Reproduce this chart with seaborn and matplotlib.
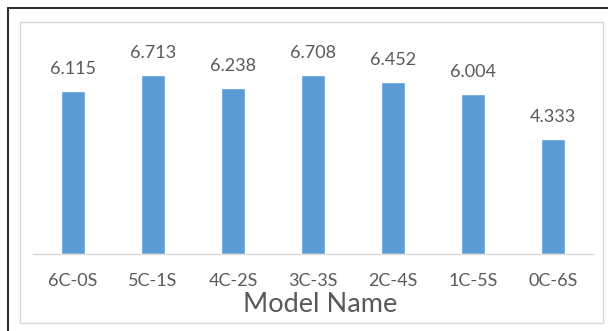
import matplotlib
matplotlib.use("Agg")
import matplotlib.pyplot as plt
from matplotlib.patches import Rectangle
from matplotlib.lines import Line2D
import seaborn as sns
import pandas as pd

models = ["6C-0S", "5C-1S", "4C-2S", "3C-3S", "2C-4S", "1C-5S", "0C-6S"]
scores = [6.115, 6.713, 6.238, 6.708, 6.452, 6.004, 4.333]
x_title = "Model Name"

sns.set_theme(style="white")
plt.rcParams["font.family"] = ["Lato", "DejaVu Sans"]

W, H = 608, 331
fig = plt.figure(figsize=(W / 100, H / 100), dpi=100)
fig.patch.set_facecolor("white")

# plot area in pixel coordinates
left_px, right_px, base_px, top_px = 33, 593, 254, 41
ax = fig.add_axes([left_px / W, 1 - base_px / H,
                   (right_px - left_px) / W, (base_px - top_px) / H])

df = pd.DataFrame({"model": models, "score": scores})
sns.barplot(data=df, x="model", y="score", color="#5B9BD5", saturation=1,
            width=0.31, ax=ax, errorbar=None)
ax.set_xlim(-0.5, len(models) - 0.5)
ax.set_ylim(0, 8)

text_color = "#595959"
for i, v in enumerate(scores):
    ax.annotate(f"{v:.3f}", xy=(i, v), xytext=(0, 17), textcoords="offset pixels",
                ha="center", va="baseline", fontsize=13, color=text_color)

for s in ["left", "right", "top"]:
    ax.spines[s].set_visible(False)
ax.spines["bottom"].set_color("#D9D9D9")
ax.spines["bottom"].set_linewidth(1.0)
ax.set_yticks([])
ax.set_ylabel("")
ax.tick_params(axis="x", length=0, pad=14, labelsize=13, labelcolor=text_color)
ax.set_xlabel(x_title, fontsize=19.5, color=text_color, va="baseline")
ax.xaxis.set_label_coords((320 - left_px) / (right_px - left_px),
                          (base_px - 312) / (base_px - top_px))

# chart frame and outer border
fig.add_artist(Rectangle((20 / W, 1 - 323 / H), (603 - 20) / W, (323 - 22) / H,
                         transform=fig.transFigure, fill=False,
                         edgecolor="#D9D9D9", linewidth=1.0))
fig.add_artist(Line2D([8 / W, 1], [1 - 8 / H, 1 - 8 / H], transform=fig.transFigure,
                      color="#303030", linewidth=1.5))
fig.add_artist(Line2D([8 / W, 8 / W], [0, 1 - 8 / H], transform=fig.transFigure,
                      color="#303030", linewidth=1.5))

fig.savefig("out.png", dpi=100)
